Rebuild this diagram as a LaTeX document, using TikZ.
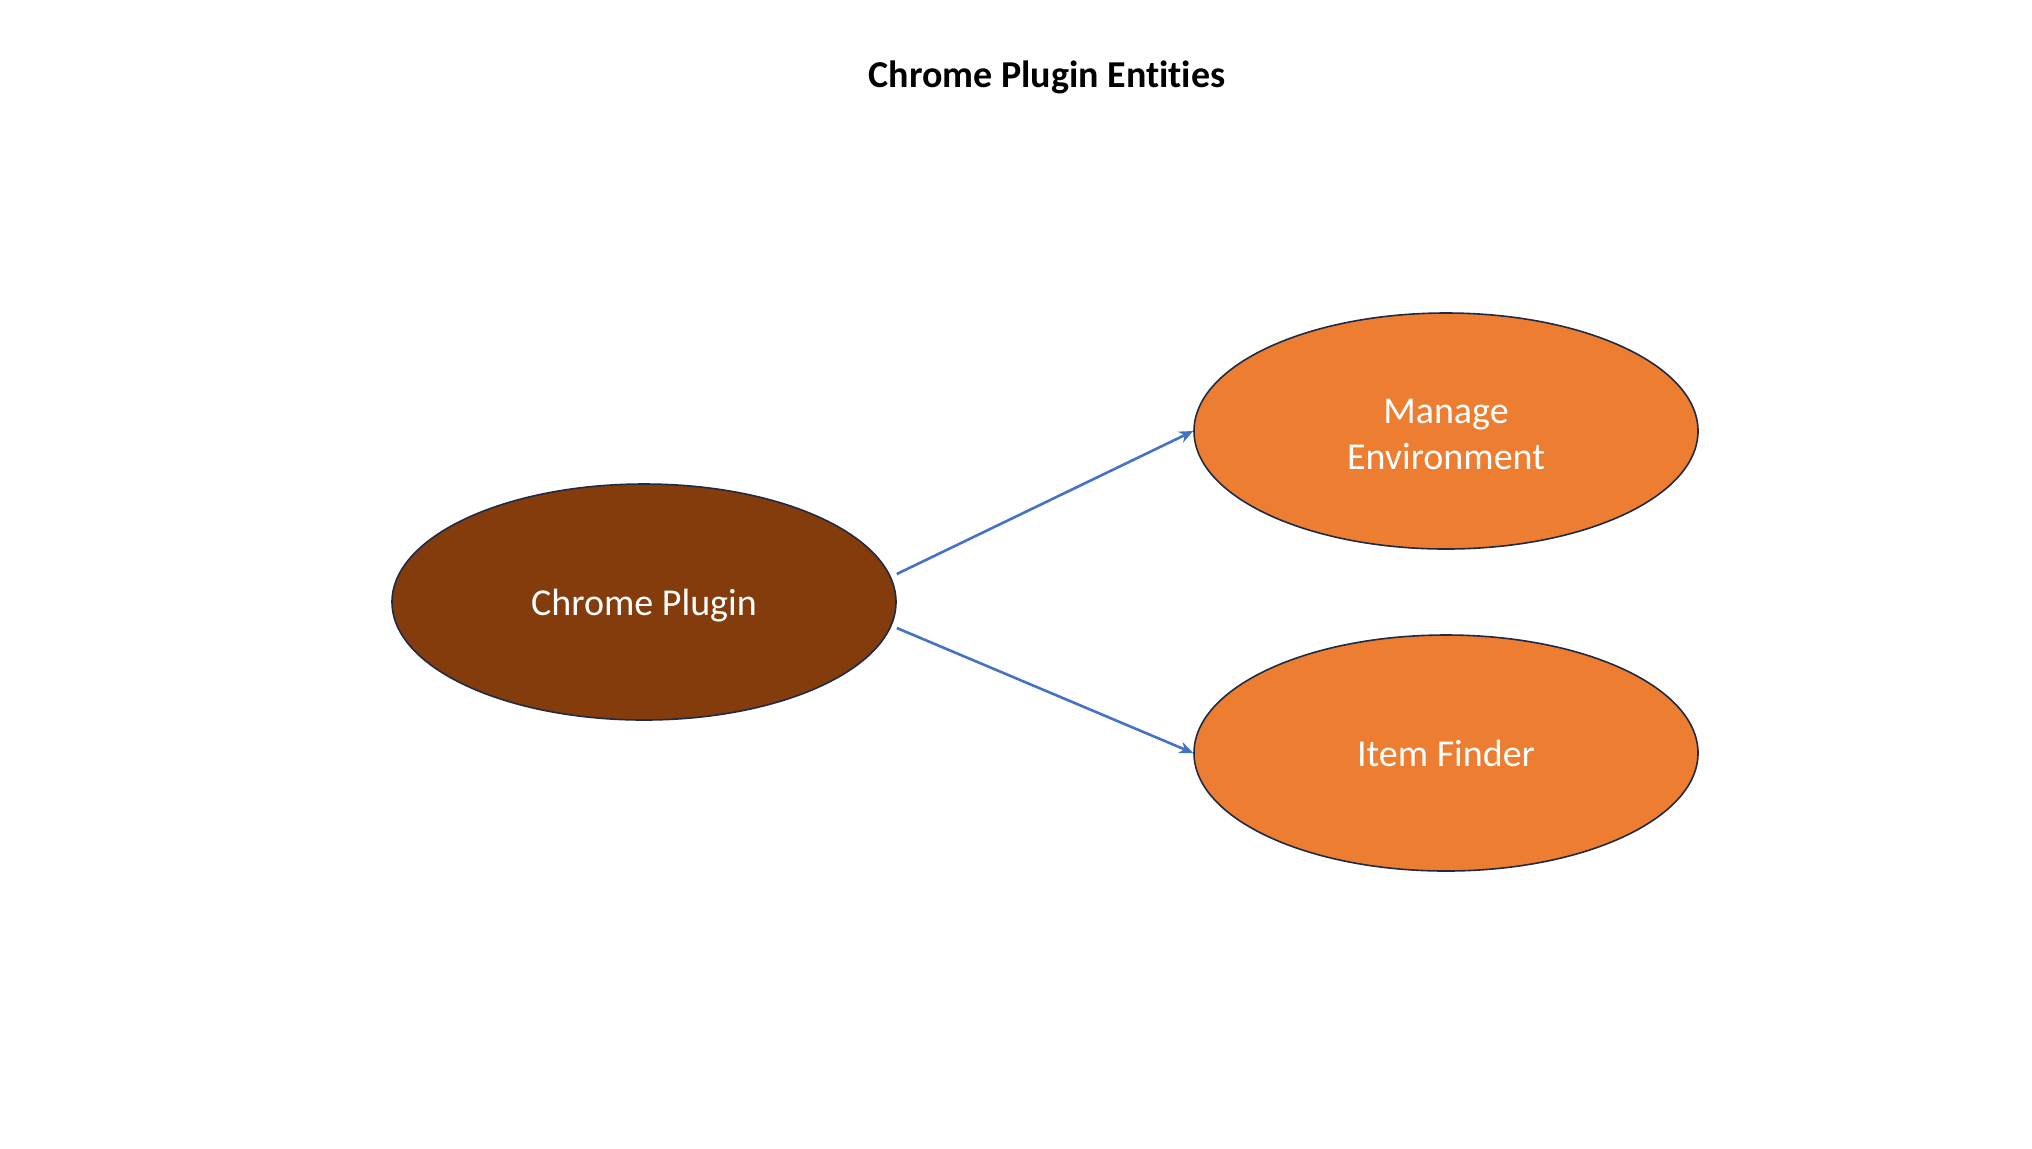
\documentclass[tikz,border=0pt]{standalone}
\usepackage{fontspec}
\setmainfont[Ligatures=NoCommon]{Carlito}
\usetikzlibrary{shapes.geometric,arrows.meta}
\definecolor{brownfill}{HTML}{843C0C}
\definecolor{orangefill}{HTML}{ED7D31}
\definecolor{outline}{HTML}{1F2A44}
\definecolor{arrowblue}{HTML}{4472C4}
\tikzset{
  ent/.style={ellipse, draw=outline, line width=0.8pt, minimum width=252pt, minimum height=118pt, inner sep=0pt, text=white, font=\fontsize{19}{23}\selectfont, align=center, text depth=0pt},
  conn/.style={draw=arrowblue, line width=1.3pt, -{Stealth[length=7pt,width=6pt]}}
}
\begin{document}
\begin{tikzpicture}[x=0.5pt,y=-0.5pt]
\useasboundingbox[fill=white] (0,0) rectangle (2032,1148);
\node[font=\bfseries\fontsize{19}{23}\selectfont] (title) at (1047,77) {Chrome Plugin Entities};
\node[ent, fill=orangefill] (me) at (1446,431) {\rule{0pt}{15.5pt}Manage\\Environment};
\node[ent, fill=brownfill] (cp) at (644,602) {Chrome Plugin};
\node[ent, fill=orangefill] (if) at (1446,753) {Item Finder};
\draw[conn] ([yshift=14pt]cp.east) -- (me.west);
\draw[conn] ([yshift=-13pt]cp.east) -- (if.west);
\end{tikzpicture}
\end{document}
